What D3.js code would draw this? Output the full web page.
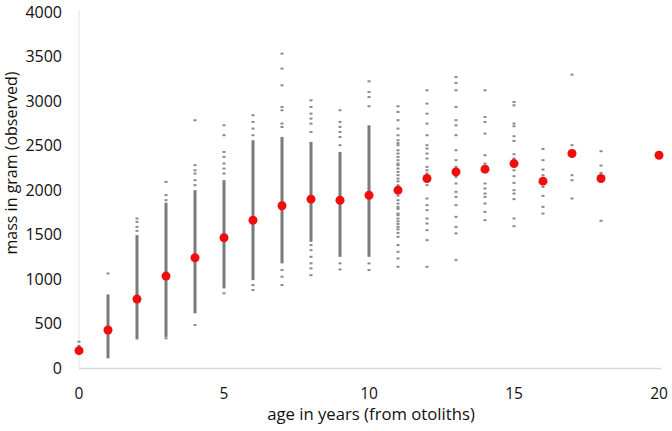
<!DOCTYPE html>
<html>
<head>
<meta charset="utf-8">
<script src="https://cdn.jsdelivr.net/npm/d3@7"></script>
<style>
  body { margin: 0; background: #fff; }
  svg text { font-family: "Open Sans", "Lato", sans-serif; fill: #111; }
</style>
</head>
<body>
<svg id="chart" width="672" height="431"></svg>
<script>
// age classes (years, from otoliths)
const ages = [0, 1, 2, 3, 4, 5, 6, 7, 8, 9, 10, 11, 12, 13, 14, 15, 16, 17, 18, 20];
// mean observed mass per age (red dots)
const meanMass = [195, 427, 775, 1034, 1240, 1465, 1663, 1825, 1900, 1888, 1944, 2001, 2132, 2206, 2237, 2300, 2102, 2413, 2132, 2394];
// continuous band of overlapping observations per age (null = none)
const denseLow = [160, 109, 322, 350, 615, 896, 989, 1177, 1420, 1251, 1251, null, null, null, null, null, null, null, null, null];
const denseHigh = [260, 828, 1495, 1860, 2001, 2113, 2563, 2600, 2544, 2431, 2731, null, null, null, null, null, null, null, null, null];
// single observations outside the band
const looseMass = [
  [296],
  [1064],
  [1543, 1588, 1644, 1682],
  [334, 1888, 1945, 2094],
  [483, 2057, 2113, 2188, 2225, 2282, 2788],
  [840, 2188, 2244, 2300, 2375, 2431, 2619, 2731],
  [877, 933, 2619, 2694, 2769, 2844],
  [933, 1027, 1102, 2712, 2750, 2900, 2937, 3181, 3369, 3537],
  [1045, 1121, 1177, 1251, 1326, 1383, 2656, 2750, 2806, 2862, 2937, 3012],
  [1109, 1177, 2507, 2600, 2656, 2712, 2769, 2900],
  [1102, 1177, 2945, 3049, 3106, 3226],
  [1139, 1233, 1307, 1383, 1476, 1520, 1560, 1588, 1620, 1650, 1682, 1720, 1738, 1790, 1813, 1850, 1888, 1940,
   2020, 2057, 2100, 2132, 2170, 2206, 2244, 2282, 2300, 2338, 2375, 2413, 2450, 2507, 2530, 2563, 2619, 2694, 2788, 2881, 2945],
  [1139, 1439, 1551, 1626, 1682, 1776, 1832, 1907, 2057, 2188, 2225, 2263, 2357, 2413, 2469, 2507, 2619, 2750, 2862, 2975, 3125],
  [1214, 1514, 1588, 1701, 1832, 1925, 1982, 2076, 2150, 2263, 2338, 2450, 2619, 2731, 2788, 2937, 3125, 3207, 3274],
  [1663, 1757, 1851, 1925, 1963, 2020, 2076, 2300, 2394, 2637, 2769, 2825, 3125],
  [1596, 1682, 1900, 1963, 2001, 2083, 2158, 2225, 2357, 2405, 2555, 2608, 2720, 2750, 2956, 2993],
  [1738, 1813, 1937, 2038, 2169, 2233, 2338, 2465],
  [1907, 2113, 2169, 2443, 2507, 3301],
  [1656, 2195, 2278, 2439],
  []
];
const xTicks = [0, 5, 10, 15, 20];
const yTicks = [0, 500, 1000, 1500, 2000, 2500, 3000, 3500, 4000];

const svg = d3.select("#chart");
const x = d3.scaleLinear().domain([0, 20]).range([79, 659]);
const y = d3.scaleLinear().domain([0, 4000]).range([368, 12.5]);

// axis lines
svg.append("line")
  .attr("x1", x(0)).attr("x2", x(20) + 2)
  .attr("y1", y(0) + 0.5).attr("y2", y(0) + 0.5)
  .attr("stroke", "#d9d9d9").attr("stroke-width", 1.5);
svg.append("line")
  .attr("x1", x(0)).attr("x2", x(0))
  .attr("y1", 10).attr("y2", y(0))
  .attr("stroke", "#e4e4e4").attr("stroke-width", 1);

// tick labels
svg.selectAll(".xt").data(xTicks).enter().append("text")
  .attr("x", (d) => x(d)).attr("y", 398.5)
  .attr("text-anchor", "middle").attr("font-size", 15.5)
  .text((d) => d);
svg.selectAll(".yt").data(yTicks).enter().append("text")
  .attr("x", 62).attr("y", (d) => y(d) + 5.5)
  .attr("text-anchor", "end").attr("font-size", 16)
  .text((d) => d);

// axis titles
svg.append("text")
  .attr("x", 371).attr("y", 419.5)
  .attr("text-anchor", "middle").attr("font-size", 16.7)
  .text("age in years (from otoliths)");
svg.append("text")
  .attr("transform", "translate(17,163) rotate(-90)")
  .attr("text-anchor", "middle").attr("font-size", 16)
  .text("mass in gram (observed)");

const rows = ages.map((a, i) => ({ age: a, lo: denseLow[i], hi: denseHigh[i], loose: looseMass[i], mean: meanMass[i] }));

// dense bands
svg.selectAll(".band").data(rows.filter((d) => d.lo !== null)).enter().append("rect")
  .attr("x", (d) => x(d.age) - 1.5)
  .attr("y", (d) => y(d.hi))
  .attr("width", 3)
  .attr("height", (d) => y(d.lo) - y(d.hi))
  .attr("fill", "#7a7a7a");

// loose observations
const loosePts = rows.flatMap((d) => d.loose.map((m) => ({ age: d.age, mass: m })));
svg.selectAll(".obs").data(loosePts).enter().append("rect")
  .attr("x", (d) => x(d.age) - 1.5)
  .attr("y", (d) => y(d.mass) - 1)
  .attr("width", 3)
  .attr("height", 2)
  .attr("fill", "#8a8a8a");

// means
svg.selectAll(".mean").data(rows).enter().append("circle")
  .attr("cx", (d) => x(d.age))
  .attr("cy", (d) => y(d.mean))
  .attr("r", 4.5)
  .attr("fill", "#f20d0d");
</script>
</body>
</html>
